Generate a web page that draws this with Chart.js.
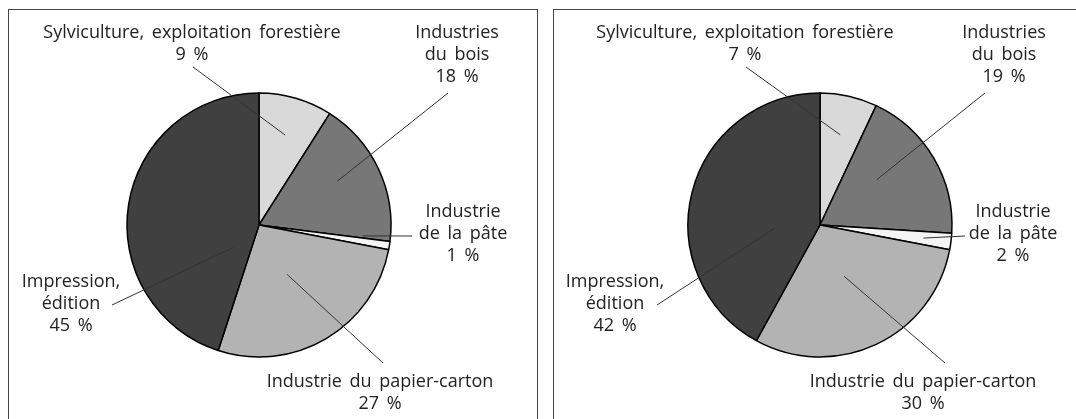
<!DOCTYPE html>
<html lang="fr">
<head>
<meta charset="utf-8">
<script src="https://cdn.jsdelivr.net/npm/chart.js@4.4.0/dist/chart.umd.min.js"></script>
<style>
    html, body { margin: 0; padding: 0; background: #fff; }
    body { width: 1076px; height: 419px; position: relative; overflow: hidden; }
    .panel {
        position: absolute;
        top: 9px;
        height: 420px;
        border: 1px solid #444;
        border-bottom: none;
    }
    #panel-left { left: 8px; width: 528px; }
    #panel-right { left: 553px; width: 540px; }
    .panel canvas { position: absolute; left: 0; top: 0; }
</style>
</head>
<body>
<div class="panel" id="panel-left"><canvas id="pie-left" width="528" height="410"></canvas></div>
<div class="panel" id="panel-right"><canvas id="pie-right" width="540" height="410"></canvas></div>
<script>
// categories (text lines as printed) and shares in %
const categories = [
    ['Sylviculture, exploitation forestière'],
    ['Industries', 'du bois'],
    ['Industrie', 'de la pâte'],
    ['Industrie du papier-carton'],
    ['Impression,', 'édition']
];
const sharesLeft = [9, 18, 1, 27, 45];
const sharesRight = [7, 19, 2, 30, 42];

const sliceColors = ['#d9d9d9', '#777777', '#f4f4f4', '#b3b3b3', '#404040'];

// label layout, in page pixels: text centre x, first line centre y, and leader end
const layoutLeft = {
    origin: { x: 9, y: 10 },
    center: { x: 259, y: 225 },
    text: [[192, 33], [457, 33], [463, 212], [380, 382], [71, 282]],
    leaderEnd: [[193, 67], [448, 93], [412, 236], [383, 363], [112, 305]],
    leaderDepth: [0.71, 0.68, 0.79, 0.43, 0.26],
    leaderTurn: [0, -4, -3, 1, -50]
};
const layoutRight = {
    origin: { x: 554, y: 10 },
    center: { x: 820, y: 225 },
    text: [[745, 33], [1004, 33], [1013, 212], [923, 382], [615, 282]],
    leaderEnd: [[746, 67], [985, 93], [965, 236], [945, 363], [657, 305]],
    leaderDepth: [0.70, 0.55, 0.79, 0.43, 0.34],
    leaderTurn: [0, -8, 0, 0, -18]
};

const pieRadius = 132;
const lineStep = 22;

const labelPlugin = {
    id: 'pieLabels',
    afterDatasetsDraw(chart, args, opts) {
        const ctx = chart.ctx;
        const layout = opts.layout;
        const ox = layout.origin.x, oy = layout.origin.y;
        const values = chart.data.datasets[0].data;
        const arcs = chart.getDatasetMeta(0).data;

        ctx.save();
        ctx.strokeStyle = '#333';
        ctx.lineWidth = 1;
        arcs.forEach(function (arc, i) {
            const p = arc.getProps(['x', 'y', 'startAngle', 'endAngle', 'outerRadius'], true);
            const a = (p.startAngle + p.endAngle) / 2 + layout.leaderTurn[i] * Math.PI / 180;
            const r = p.outerRadius * layout.leaderDepth[i];
            ctx.beginPath();
            ctx.moveTo(p.x + Math.cos(a) * r, p.y + Math.sin(a) * r);
            ctx.lineTo(layout.leaderEnd[i][0] - ox, layout.leaderEnd[i][1] - oy);
            ctx.stroke();
        });

        ctx.fillStyle = '#222';
        ctx.font = '18px "Open Sans", sans-serif';
        ctx.textAlign = 'center';
        ctx.textBaseline = 'middle';
        if ('wordSpacing' in ctx) ctx.wordSpacing = '3px';
        chart.data.labels.forEach(function (lines, i) {
            const all = lines.concat([values[i] + ' %']);
            const tx = layout.text[i][0] - ox;
            const ty = layout.text[i][1] - oy;
            all.forEach(function (line, k) {
                ctx.fillText(line, tx, ty + k * lineStep);
            });
        });
        ctx.restore();
    }
};

function buildPie(canvasId, shares, layout) {
    const canvas = document.getElementById(canvasId);
    const cx = layout.center.x - layout.origin.x;
    const cy = layout.center.y - layout.origin.y;
    const w = canvas.width, h = canvas.height;
    // centre the chart area on the pie centre
    const half = Math.min(cx, w - cx, cy, h - cy);
    return new Chart(canvas, {
        type: 'pie',
        data: {
            labels: categories,
            datasets: [{
                data: shares,
                backgroundColor: sliceColors,
                borderColor: '#000',
                borderWidth: 1.5,
                radius: pieRadius
            }]
        },
        options: {
            responsive: false,
            animation: false,
            events: [],
            layout: {
                padding: {
                    left: cx - half,
                    right: w - cx - half,
                    top: cy - half,
                    bottom: h - cy - half
                }
            },
            plugins: {
                legend: { display: false },
                tooltip: { enabled: false },
                pieLabels: { layout: layout }
            }
        },
        plugins: [labelPlugin]
    });
}

buildPie('pie-left', sharesLeft, layoutLeft);
buildPie('pie-right', sharesRight, layoutRight);
</script>
</body>
</html>
